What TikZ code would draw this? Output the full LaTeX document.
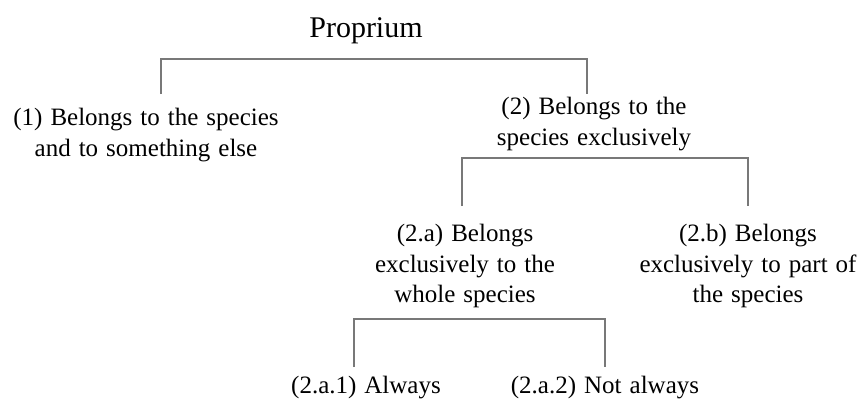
\documentclass[tikz,border=0pt]{standalone}
\usepackage{fontspec}
\setmainfont{Liberation Serif}
\newcommand\treelabelfont{\fontsize{25}{30.5}\selectfont\spaceskip=0.32em\relax}
\begin{document}
\begin{tikzpicture}[x=1pt,y=-1pt,
  label/.style={align=center,inner sep=0pt,font=\treelabelfont},
  title/.style={inner sep=0pt,font=\fontsize{30}{35}\selectfont},
  bracket/.style={draw={rgb,255:red,120;green,120;blue,120},line width=1.3pt}]
\useasboundingbox (0,0) rectangle (859,404);

% tree labels
\node[title] (prop) at (366,31) {Proprium};
\node[label] (n1) at (146,135) {(1) Belongs to the species\\and to something else};
\node[label] (n2) at (594,124) {(2) Belongs to the\\species exclusively};
\node[label] (n2a) at (465,266) {(2.a) Belongs\\exclusively to the\\whole species};
\node[label] (n2b) at (748,266) {(2.b) Belongs\\exclusively to part of\\the species};
\node[label] (n2a1) at (366,388) {(2.a.1) Always};
\node[label] (n2a2) at (605,388) {(2.a.2) Not always};

% bracket ends above each child
\coordinate (b1l) at (161,94);
\coordinate (b1r) at (587,94);
\coordinate (b2l) at (462,206);
\coordinate (b2r) at (748,206);
\coordinate (b3l) at (354,367);
\coordinate (b3r) at (605,367);

% brackets joining each parent to its children
\draw[bracket] (b1l) -- (b1l|-0,59) -- (b1r|-0,59) -- (b1r);
\draw[bracket] (b2l) -- (b2l|-0,158) -- (b2r|-0,158) -- (b2r);
\draw[bracket] (b3l) -- (b3l|-0,319) -- (b3r|-0,319) -- (b3r);
\end{tikzpicture}
\end{document}
